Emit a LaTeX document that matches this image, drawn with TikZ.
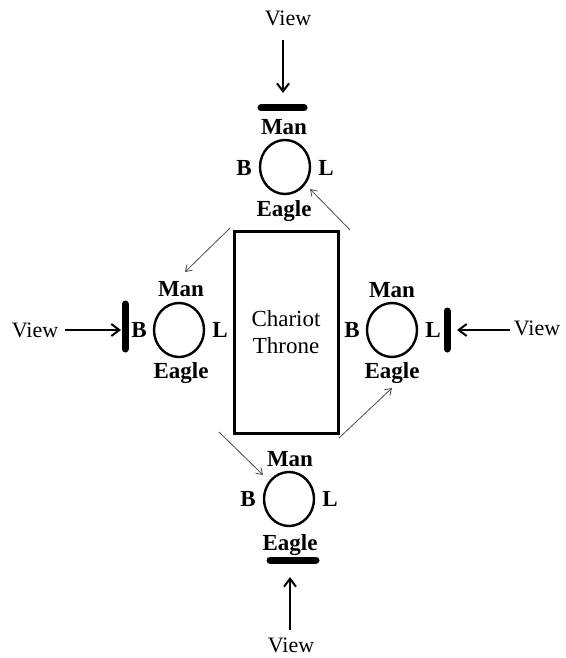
\documentclass[tikz,border=0pt]{standalone}
\usepackage{fontspec}
\setmainfont{Liberation Serif}
\usetikzlibrary{arrows.meta,positioning,shapes.geometric}

\begin{document}
\begin{tikzpicture}[x=0.5pt, y=-0.5pt,
    face/.style={ellipse, draw, line width=1.2pt, minimum width=25pt,
                 minimum height=27pt, inner sep=0pt},
    lbl/.style={font=\fontsize{11.5}{13}\selectfont\bfseries, inner sep=1pt},
    viewtxt/.style={font=\fontsize{11}{13}\selectfont, inner sep=1pt},
    bar/.style={line width=3.5pt, line cap=round},
    varr/.style={-{Straight Barb[length=4pt,width=6pt]}, line width=1pt},
    tarr/.style={-{Straight Barb[length=3pt,width=4pt]}, line width=0.4pt, black!70}]

    \useasboundingbox (0,0) rectangle (566,658);

    % chariot throne
    \node[draw, line width=1.5pt, minimum width=52pt, minimum height=101pt,
          align=center, font=\fontsize{11.5}{13.5}\selectfont] (throne) at (286,332) {Chariot\\Throne};

    % top
    \node[viewtxt] (vT) at (288,18) {View};
    \node[face] (cT) at (285,167) {};
    \node[lbl] (mT) at (284,127) {Man};
    \node[lbl] (eT) at (284,211) {Eagle};
    \node[lbl] (bT) at (244,168) {B};
    \node[lbl] (lT) at (326,168) {L};
    \coordinate (aT1) at (283,40);
    \coordinate (aT2) at (283,93);
    \coordinate (bT1) at (261,108);
    \coordinate (bT2) at (304,108);
    \draw[varr] (aT1) -- (aT2);
    \draw[bar] (bT1) -- (bT2);

    % left
    \node[viewtxt] (vL) at (35,330) {View};
    \node[face] (cL) at (179,330) {};
    \node[lbl] (mL) at (181,289) {Man};
    \node[lbl] (eL) at (181,373) {Eagle};
    \node[lbl] (bL) at (139,330) {B};
    \node[lbl] (lL) at (220,330) {L};
    \coordinate (aL1) at (65,330);
    \coordinate (aL2) at (121,330);
    \coordinate (bL1) at (125,304);
    \coordinate (bL2) at (125,349);
    \draw[varr] (aL1) -- (aL2);
    \draw[bar] (bL1) -- (bL2);

    % right
    \node[viewtxt] (vR) at (537,328) {View};
    \node[face] (cR) at (392,330) {};
    \node[lbl] (mR) at (392,290) {Man};
    \node[lbl] (eR) at (392,373) {Eagle};
    \node[lbl] (bR) at (352,330) {B};
    \node[lbl] (lR) at (433,330) {L};
    \coordinate (aR1) at (510,330);
    \coordinate (aR2) at (457,330);
    \coordinate (bR1) at (447,311);
    \coordinate (bR2) at (447,349);
    \draw[varr] (aR1) -- (aR2);
    \draw[bar] (bR1) -- (bR2);

    % bottom
    \node[viewtxt] (vB) at (291,645) {View};
    \node[face] (cB) at (289,499) {};
    \node[lbl] (mB) at (290,459) {Man};
    \node[lbl] (eB) at (290,545) {Eagle};
    \node[lbl] (bB) at (248,499) {B};
    \node[lbl] (lB) at (330,499) {L};
    \coordinate (aB1) at (290,630);
    \coordinate (aB2) at (290,577);
    \coordinate (bB1) at (270,560);
    \coordinate (bB2) at (316,560);
    \draw[varr] (aB1) -- (aB2);
    \draw[bar] (bB1) -- (bB2);

    % turning path round the throne
    \coordinate (tNE) at (350,230);
    \coordinate (tNW) at (230,228);
    \coordinate (tSW) at (219,432);
    \coordinate (tSE) at (339,438);
    \coordinate (hT) at (310,189);
    \coordinate (hL) at (185,272);
    \coordinate (hB) at (263,475);
    \coordinate (hR) at (392,388);
    \draw[tarr] (tNE) -- (hT);
    \draw[tarr] (tNW) -- (hL);
    \draw[tarr] (tSW) -- (hB);
    \draw[tarr] (tSE) -- (hR);
\end{tikzpicture}
\end{document}
